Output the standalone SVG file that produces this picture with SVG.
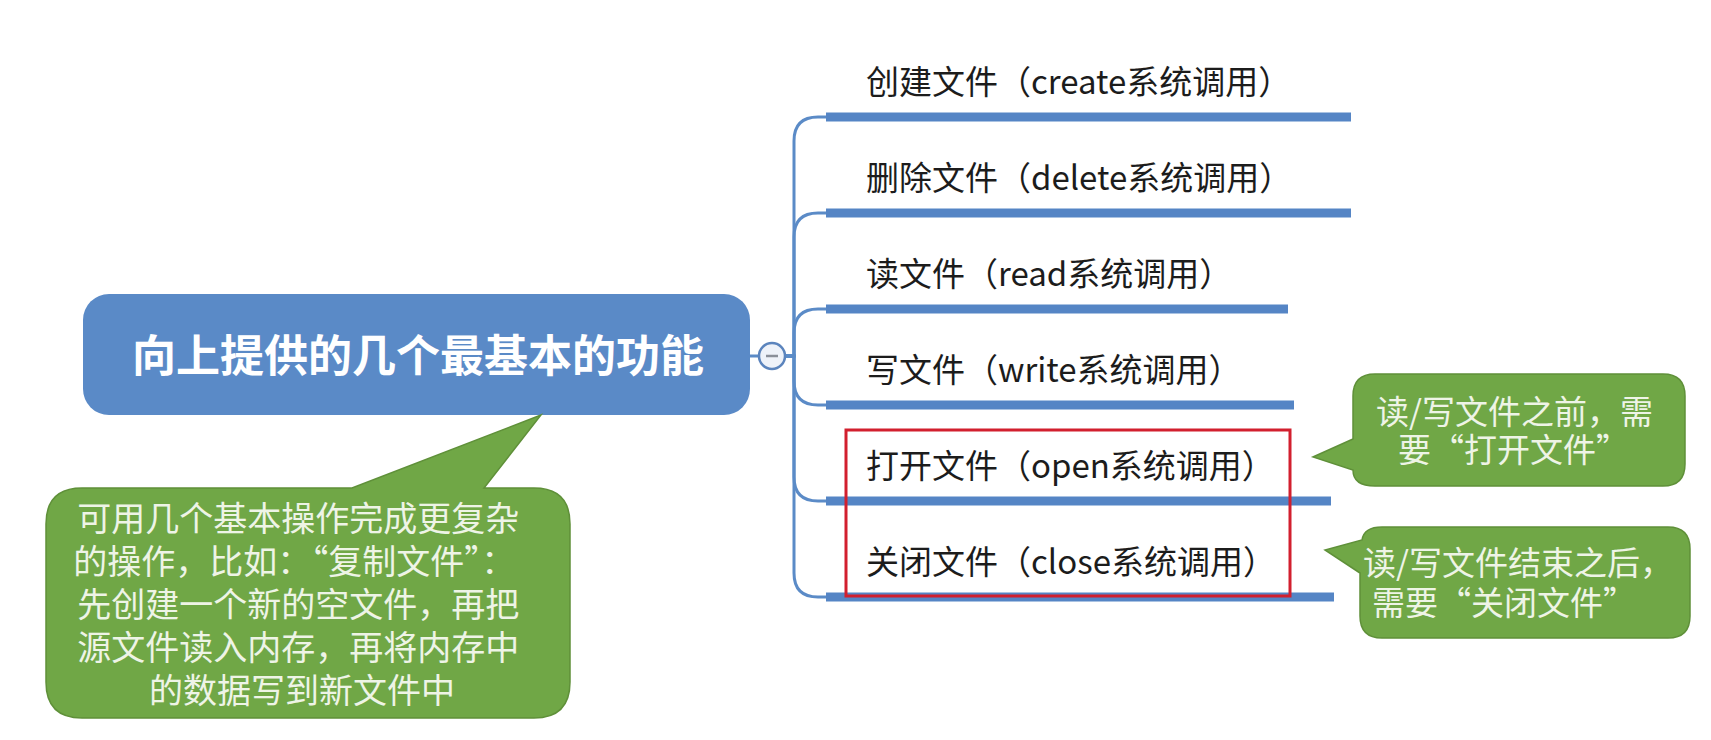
<svg xmlns="http://www.w3.org/2000/svg" width="1711" height="740" viewBox="0 0 1711 740" xml:lang="zh-CN" lang="zh-CN">
<style>
.bg{fill:#ffffff}
.root{fill:#5a8ac7}
.roottxt{font-family:"Noto Sans CJK SC","Noto Sans",sans-serif;font-size:44px;font-weight:700;fill:#ffffff}
.lbl{font-family:"Noto Sans CJK SC","Noto Sans",sans-serif;font-size:33px;fill:#1c1c1c}
.ul{stroke:#5585c5;stroke-width:9;fill:none}
.conn{stroke:#5b8bc7;stroke-width:3;fill:none}
.call{fill:#70a746;stroke:#5f9039;stroke-width:1.5}
.ctxt{font-family:"Noto Sans CJK SC","Noto Sans",sans-serif;font-size:34px;fill:#eef4e6}
.ctxt2{font-family:"Noto Sans CJK SC","Noto Sans",sans-serif;font-size:33px;fill:#eef4e6}
.redbox{fill:none;stroke:#d21f2e;stroke-width:3}
</style>
<rect class="bg" x="0" y="0" width="1711" height="740"/>

<g id="connectors">
<line class="conn" x1="750" y1="356" x2="760" y2="356"/>
<path class="conn" d="M785 356 H794 V141 Q794 117 818 117 H830"/>
<path class="conn" d="M785 356 H794 V237 Q794 213 818 213 H830"/>
<path class="conn" d="M785 356 H794 V333 Q794 309 818 309 H830"/>
<path class="conn" d="M785 356 H794 V381 Q794 405 818 405 H830"/>
<path class="conn" d="M785 356 H794 V477 Q794 501 818 501 H830"/>
<path class="conn" d="M785 356 H794 V573 Q794 597 818 597 H830"/>
</g>

<g id="root">
<rect class="root" x="83" y="294" width="667" height="121" rx="26" ry="26"/>
<text class="roottxt" x="418" y="372" text-anchor="middle">向上提供的几个最基本的功能</text>
</g>

<g id="collapse">
<circle cx="772" cy="356" r="13" fill="#eef2f9" stroke="#5b84bd" stroke-width="2.5"/>
<line x1="766" y1="356" x2="778" y2="356" stroke="#8a8f99" stroke-width="2.5"/>
</g>

<g id="n-create">
<text class="lbl" x="866" y="94">创建文件（create系统调用）</text>
<line class="ul" x1="826" y1="117" x2="1351" y2="117"/>
</g>
<g id="n-delete">
<text class="lbl" x="866" y="190">删除文件（delete系统调用）</text>
<line class="ul" x1="826" y1="213" x2="1351" y2="213"/>
</g>
<g id="n-read">
<text class="lbl" x="866" y="286">读文件（read系统调用）</text>
<line class="ul" x1="826" y1="309" x2="1288" y2="309"/>
</g>
<g id="n-write">
<text class="lbl" x="866" y="382">写文件（write系统调用）</text>
<line class="ul" x1="826" y1="405" x2="1294" y2="405"/>
</g>
<g id="n-open">
<text class="lbl" x="866" y="478">打开文件（open系统调用）</text>
<line class="ul" x1="826" y1="501" x2="1331" y2="501"/>
</g>
<g id="n-close">
<text class="lbl" x="866" y="574">关闭文件（close系统调用）</text>
<line class="ul" x1="826" y1="597" x2="1334" y2="597"/>
</g>

<g id="highlight">
<rect class="redbox" x="846" y="430" width="444" height="166"/>
</g>

<g id="callout-left">
<path class="call" d="M82 488 H352 L541 415 L484 488 H534 Q570 488 570 524 V682 Q570 718 534 718 H82 Q46 718 46 682 V524 Q46 488 82 488 Z"/>
<text class="ctxt" text-anchor="middle">
<tspan x="302" y="531">可用几个基本操作完成更复杂</tspan>
<tspan x="298" y="574">的操作，比如：“复制文件”：</tspan>
<tspan x="302" y="617">先创建一个新的空文件，再把</tspan>
<tspan x="302" y="660">源文件读入内存，再将内存中</tspan>
<tspan x="302" y="703">的数据写到新文件中</tspan>
</text>
</g>

<g id="callout-open">
<path class="call" d="M1375 374 H1663 Q1685 374 1685 396 V464 Q1685 486 1663 486 H1375 Q1353 486 1353 470 L1313 457 L1353 439 V396 Q1353 374 1375 374 Z"/>
<text class="ctxt2">
<tspan x="1376" y="424">读/写文件之前，需</tspan>
<tspan x="1398" y="462">要“打开文件”</tspan>
</text>
</g>

<g id="callout-close">
<path class="call" d="M1382 527 H1668 Q1690 527 1690 549 V616 Q1690 638 1668 638 H1382 Q1360 638 1360 616 V573 L1325 550 L1362 540 Q1364 527 1382 527 Z"/>
<text class="ctxt2">
<tspan x="1363" y="575">读/写文件结束之后，</tspan>
<tspan x="1372" y="615">需要“关闭文件”</tspan>
</text>
</g>
</svg>
